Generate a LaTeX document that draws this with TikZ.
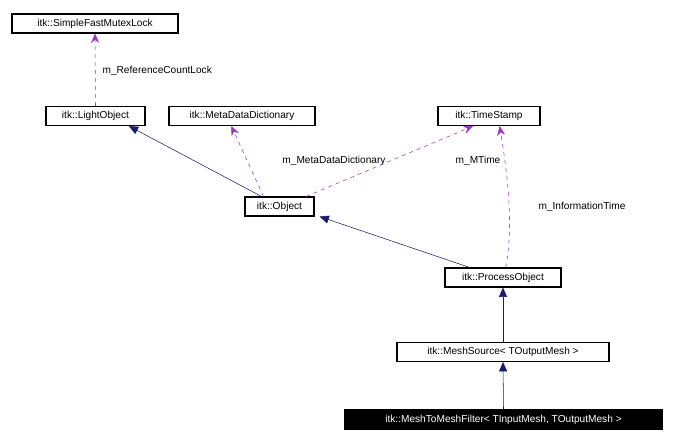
\documentclass[tikz,border=0pt]{standalone}
\usepackage{fontspec}
\setmainfont{Liberation Sans}
\usetikzlibrary{arrows.meta}
\begin{document}
\begin{tikzpicture}[x=0.75pt,y=-0.75pt,
  box/.style={draw,thick,inner sep=0pt,minimum height=19*0.75pt,font=\fontsize{7.6}{9}\selectfont,fill=white},
  inh/.style={draw={rgb,255:red,25;green,25;blue,112},-{Triangle[length=7pt,width=6pt]}},
  use/.style={draw={rgb,255:red,153;green,50;blue,204},dashed,-{Stealth[length=7pt,width=6pt]}},
  lbl/.style={font=\fontsize{7.6}{9}\selectfont,fill=white,inner sep=1pt}]
\useasboundingbox (0,0) rectangle (680,446);
\node[box,minimum width=166*0.75pt] (mutex) at (95,23.5) {itk::SimpleFastMutexLock};
\node[box,minimum width=99*0.75pt] (light) at (95.5,116) {itk::LightObject};
\node[box,minimum width=146*0.75pt] (meta) at (242,116) {itk::MetaDataDictionary};
\node[box,minimum width=102*0.75pt] (ts) at (489,116) {itk::TimeStamp};
\node[box,minimum width=69*0.75pt] (obj) at (279.5,206.5) {itk::Object};
\node[box,minimum width=116*0.75pt] (proc) at (503,277.5) {itk::ProcessObject};
\node[box,minimum width=212*0.75pt] (src) at (503,352) {itk::MeshSource< TOutputMesh >};
\node[box,minimum width=317*0.75pt,fill=black,text=white] (filt) at (503.5,419.5) {itk::MeshToMeshFilter< TInputMesh, TOutputMesh >};
\draw[use] (light.north) -- (mutex.south);
\node[lbl,anchor=west] at (101,71) {m\_ReferenceCountLock};
\draw[inh] (obj.north west) ++(17,0) coordinate (o1) -- ([xshift=25]light.south);
\draw[use] ([xshift=-12]obj.north) -- ([xshift=-8]meta.south);
\node[lbl] at (334,161) {m\_MetaDataDictionary};
\draw[use] ([xshift=20]obj.north) -- ([xshift=-12]ts.south);
\node[lbl] at (478,161) {m\_MTime};
\draw[inh] ([xshift=-25]proc.north) -- ([xshift=30]obj.south);
\draw[use] ([xshift=2]proc.north) .. controls (515,220) and (505,160) .. ([xshift=8]ts.south);
\node[lbl] at (582,207) {m\_InformationTime};
\draw[inh] (src.north) -- (proc.south);
\draw[inh] (filt.north) -- (src.south);
\end{tikzpicture}
\end{document}
